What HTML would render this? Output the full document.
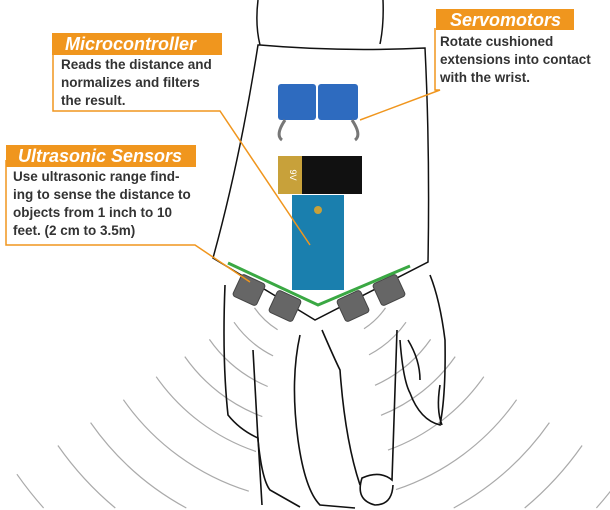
<!DOCTYPE html>
<html><head><meta charset="utf-8"><style>
html,body{margin:0;padding:0;background:#fff;width:610px;height:510px;overflow:hidden}
svg{display:block;overflow:hidden}
.h{font-family:"Liberation Sans",sans-serif;font-style:italic;font-weight:bold;fill:#fff;font-size:18px}
.t{font-family:"Liberation Sans",sans-serif;font-weight:bold;fill:#333;font-size:13.5px}
</style></head><body>
<svg width="610" height="510" viewBox="0 0 610 510">
<defs><clipPath id="frame"><rect x="0" y="0" width="610" height="510"/></clipPath></defs>
<g id="arcs" clip-path="url(#frame)" fill="none" stroke="#aaa" stroke-width="1.2"></g>
<path d="M258 0 Q255 25 260 45 M383 0 Q384 25 380 44" stroke="#111" stroke-width="1.5" fill="none"/>
<g fill="none" stroke="#111" stroke-width="1.6">
<path d="M225 285 Q222 360 228 415 Q240 430 258 438 L262 505"/>
<path d="M253 350 L258 440 Q262 480 270 490 L300 507"/>
<path d="M300 335 Q290 380 298 440 Q305 490 320 505 L355 508"/>
<path d="M322 330 Q335 360 340 370 Q345 440 360 485"/>
<path d="M397 330 Q395 400 392 480 Q380 470 362 478 Q355 500 375 505 Q392 505 393 485"/>
<path d="M400 340 Q403 380 410 393 Q420 420 440 425 Q446 395 445 340 Q440 300 430 275"/>
<path d="M408 340 Q420 360 420 380"/>
<path d="M440 385 Q436 410 442 425"/>
</g>
<path d="M260 45 Q340 52 425 48 Q430 150 428 262 L315 320 L213 258 Q240 160 258 45 Z" fill="#fff" stroke="#111" stroke-width="1.5"/>
<g><rect x="278" y="84" width="38" height="36" rx="3" fill="#2e6bbf"/><path d="M285 120 Q275 135 282 140" stroke="#777" stroke-width="3" fill="none"/></g>
<g><rect x="318" y="84" width="40" height="36" rx="3" fill="#2e6bbf"/><path d="M352 120 Q362 135 355 140" stroke="#777" stroke-width="3" fill="none"/></g>
<g>
<rect x="278" y="156" width="24" height="38" fill="#c8a13a"/><rect x="302" y="156" width="60" height="38" fill="#111"/>
<text x="290" y="175" transform="rotate(90 290 175)" text-anchor="middle" font-family="Liberation Sans" font-size="9" fill="#fff">9V</text></g>
<g>
<rect x="292" y="195" width="52" height="95" fill="#1a7fae"/>
<circle cx="318" cy="210" r="4" fill="#c8a13a"/></g>
<g fill="#666" stroke="#444">
<rect x="236" y="278" width="26" height="24" rx="3" transform="rotate(25 249 290)"/>
<rect x="272" y="294" width="26" height="24" rx="3" transform="rotate(25 285 306)"/>
<rect x="340" y="294" width="26" height="24" rx="3" transform="rotate(-25 353 306)"/>
<rect x="376" y="278" width="26" height="24" rx="3" transform="rotate(-25 389 290)"/>
</g>
<polyline points="228,263 318,305 410,266" fill="none" stroke="#3aa843" stroke-width="3"/>
<g fill="none" stroke="#f0961e" stroke-width="1.5">
<path d="M53 50 L53 111 L220 111 L310 245"/>
<path d="M6 160 L6 245 L195 245 L250 282"/>
<path d="M435 28 L435 90 L440 90 L360 120"/>
</g>
<g>
<rect x="52" y="33" width="170" height="22" fill="#f0961e"/>
<text class="h" x="65" y="50">Microcontroller</text>
<text class="t" x="61" y="69">Reads the distance and</text>
<text class="t" x="61" y="87">normalizes and filters</text>
<text class="t" x="61" y="105">the result.</text></g>
<g>
<rect x="436" y="9" width="138" height="21" fill="#f0961e"/>
<text class="h" x="450" y="26">Servomotors</text>
<text class="t" x="440" y="46">Rotate cushioned</text>
<text class="t" x="440" y="64">extensions into contact</text>
<text class="t" x="440" y="82">with the wrist.</text></g>
<g>
<rect x="6" y="145" width="190" height="22" fill="#f0961e"/>
<text class="h" x="18" y="162">Ultrasonic Sensors</text>
<text class="t" x="13" y="181">Use ultrasonic range find-</text>
<text class="t" x="13" y="199">ing to sense the distance to</text>
<text class="t" x="13" y="217">objects from 1 inch to 10</text>
<text class="t" x="13" y="235">feet.   (2 cm to 3.5m)</text></g>
</svg>
<script>
const radii=[55,80,105,135,165,200,240,280,320,370];
const g=document.getElementById('arcs');
const cx=320,cy=262;
function pt(r,a){return [cx+r*Math.cos(a*Math.PI/180),cy+r*Math.sin(a*Math.PI/180)];}
function arc(r,a1,a2){const s=pt(r,a1),e=pt(r,a2);
return `M${s[0].toFixed(1)} ${s[1].toFixed(1)} A${r} ${r} 0 0 ${a2>a1?1:0} ${e[0].toFixed(1)} ${e[1].toFixed(1)}`;}
radii.forEach((r,i)=>{
 const dl=Math.min(r-1,28+r*0.18), dr=Math.min(r-1,28+r*0.2);
 let la=180-Math.acos(dl/r)*180/Math.PI, ra=Math.acos(dr/r)*180/Math.PI;
 const ymax=Math.asin(Math.min(1,(508-cy)/r))*180/Math.PI;
 la=Math.max(la,180-ymax); ra=Math.min(ra,ymax);
 [[145,la],[35,ra]].forEach(([a,b],j)=>{
  const el=document.createElementNS('http://www.w3.org/2000/svg','path');
  el.setAttribute('d',arc(r,a,b));
  
  
  g.appendChild(el);});
});
</script>
</body></html>
